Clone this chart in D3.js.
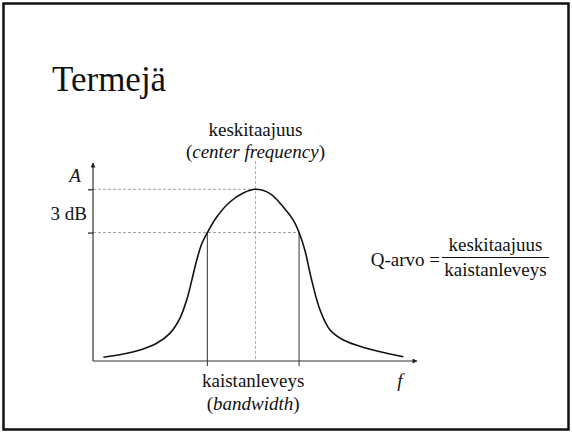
<!DOCTYPE html>
<html>
<head>
<meta charset="utf-8">
<script src="https://cdn.jsdelivr.net/npm/d3@7"></script>
<style>
  body { margin: 0; background: #fff; }
  text { font-family: "Liberation Serif", "Times New Roman", serif; fill: #111; }
</style>
</head>
<body>
<div id="chart"></div>
<script>
// curve: frequency (arbitrary units) vs amplitude (peak = 1)
const freq = [0.32, 0.94, 1.46, 1.97, 2.38, 2.69, 2.90, 3.06, 3.21, 3.37, 3.54, 3.83, 4.24, 4.65, 5.03,
              5.48, 5.89, 6.20, 6.38, 6.56, 6.77, 7.03, 7.34, 7.75, 8.47, 9.09, 9.61];
const amp = [0.022, 0.041, 0.064, 0.103, 0.161, 0.248, 0.355, 0.471, 0.587, 0.684, 0.748, 0.839, 0.926, 0.978, 1.0,
             0.975, 0.897, 0.820, 0.748, 0.645, 0.471, 0.297, 0.180, 0.122, 0.074, 0.045, 0.025];
const centerFreq = 5.03;
const bandEdges = [3.54, 6.38];
const peakLevel = 1.0;
const halfPowerLevel = 0.748;

const W = 572, H = 432;
const svg = d3.select("#chart").append("svg")
  .attr("width", W)
  .attr("height", H);

// slide frame
svg.append("rect")
  .attr("x", 3.5).attr("y", 3.5)
  .attr("width", 565).attr("height", 426)
  .attr("fill", "none")
  .attr("stroke", "#111")
  .attr("stroke-width", 2.5);

svg.append("text")
  .attr("x", 52).attr("y", 91)
  .style("font-size", "35px")
  .text("Termejä");

const x = d3.scaleLinear().domain([0, 10]).range([93, 416]);
const y = d3.scaleLinear().domain([0, 1]).range([361, 189.3]);

const defs = svg.append("defs");
defs.append("marker")
  .attr("id", "arrow")
  .attr("viewBox", "0 0 10 10")
  .attr("refX", 9).attr("refY", 5)
  .attr("markerWidth", 7).attr("markerHeight", 5)
  .attr("markerUnits", "userSpaceOnUse")
  .attr("orient", "auto")
  .append("path")
  .attr("d", "M0,0L10,5L0,10z")
  .attr("fill", "#222");

// dashed guide lines
const dash = "3,2";
svg.append("line")
  .attr("x1", x(0)).attr("x2", x(centerFreq))
  .attr("y1", y(peakLevel)).attr("y2", y(peakLevel))
  .attr("stroke", "#888").attr("stroke-width", 0.8).attr("stroke-dasharray", dash);
svg.append("line")
  .attr("x1", x(0)).attr("x2", x(bandEdges[1]))
  .attr("y1", y(halfPowerLevel)).attr("y2", y(halfPowerLevel))
  .attr("stroke", "#888").attr("stroke-width", 0.8).attr("stroke-dasharray", dash);
svg.append("line")
  .attr("x1", x(centerFreq)).attr("x2", x(centerFreq))
  .attr("y1", 161).attr("y2", y(0))
  .attr("stroke", "#999").attr("stroke-width", 0.8).attr("stroke-dasharray", dash);

// bandwidth edges
svg.selectAll(".edge")
  .data(bandEdges)
  .enter()
  .append("line")
  .attr("class", "edge")
  .attr("x1", d => x(d)).attr("x2", d => x(d))
  .attr("y1", y(halfPowerLevel)).attr("y2", y(0) + 5)
  .attr("stroke", "#333").attr("stroke-width", 1);

// axes
svg.append("line")
  .attr("x1", x(0)).attr("x2", x(0))
  .attr("y1", y(0)).attr("y2", 163)
  .attr("stroke", "#333").attr("stroke-width", 1.2)
  .attr("marker-end", "url(#arrow)");
svg.append("line")
  .attr("x1", x(0)).attr("x2", 417)
  .attr("y1", y(0)).attr("y2", y(0))
  .attr("stroke", "#333").attr("stroke-width", 1.2)
  .attr("marker-end", "url(#arrow)");

const yAxis = svg.append("g")
  .attr("transform", `translate(${x(0)},0)`)
  .call(d3.axisLeft(y).tickValues([halfPowerLevel, peakLevel]).tickSize(5).tickFormat(""));
yAxis.select(".domain").remove();
yAxis.selectAll("line").attr("stroke", "#222").attr("stroke-width", 1.2);

// response curve
const line = d3.line()
  .x((d, i) => x(freq[i]))
  .y(d => y(d))
  .curve(d3.curveCatmullRom.alpha(0.5));

svg.append("path")
  .datum(amp)
  .attr("fill", "none")
  .attr("stroke", "#111")
  .attr("stroke-width", 1.6)
  .attr("d", line);

// labels
const fs = "19px";
svg.append("text")
  .attr("x", 75).attr("y", 182)
  .attr("text-anchor", "middle")
  .style("font-size", fs).style("font-style", "italic")
  .text("A");
svg.append("text")
  .attr("x", 87).attr("y", 219.5)
  .attr("text-anchor", "end")
  .style("font-size", fs)
  .text("3 dB");
svg.append("text")
  .attr("x", 400).attr("y", 387)
  .attr("text-anchor", "middle")
  .style("font-size", fs).style("font-style", "italic")
  .text("f");

svg.append("text")
  .attr("x", x(centerFreq)).attr("y", 136)
  .attr("text-anchor", "middle")
  .style("font-size", fs)
  .text("keskitaajuus");
const cf = svg.append("text")
  .attr("x", x(centerFreq)).attr("y", 158)
  .attr("text-anchor", "middle")
  .style("font-size", fs);
cf.append("tspan").text("(");
cf.append("tspan").style("font-style", "italic").text("center frequency");
cf.append("tspan").text(")");

const bwX = (x(bandEdges[0]) + x(bandEdges[1])) / 2;
svg.append("text")
  .attr("x", bwX).attr("y", 387)
  .attr("text-anchor", "middle")
  .style("font-size", fs)
  .text("kaistanleveys");
const bw = svg.append("text")
  .attr("x", bwX).attr("y", 410)
  .attr("text-anchor", "middle")
  .style("font-size", fs);
bw.append("tspan").text("(");
bw.append("tspan").style("font-style", "italic").text("bandwidth");
bw.append("tspan").text(")");

// Q formula
svg.append("text")
  .attr("x", 440).attr("y", 266)
  .attr("text-anchor", "end")
  .style("font-size", fs)
  .text("Q-arvo =");
svg.append("line")
  .attr("x1", 442).attr("x2", 549)
  .attr("y1", 257.5).attr("y2", 257.5)
  .attr("stroke", "#111").attr("stroke-width", 1);
svg.append("text")
  .attr("x", 495.5).attr("y", 251)
  .attr("text-anchor", "middle")
  .style("font-size", fs)
  .text("keskitaajuus");
svg.append("text")
  .attr("x", 495.5).attr("y", 275.5)
  .attr("text-anchor", "middle")
  .style("font-size", fs)
  .text("kaistanleveys");
</script>
</body>
</html>
